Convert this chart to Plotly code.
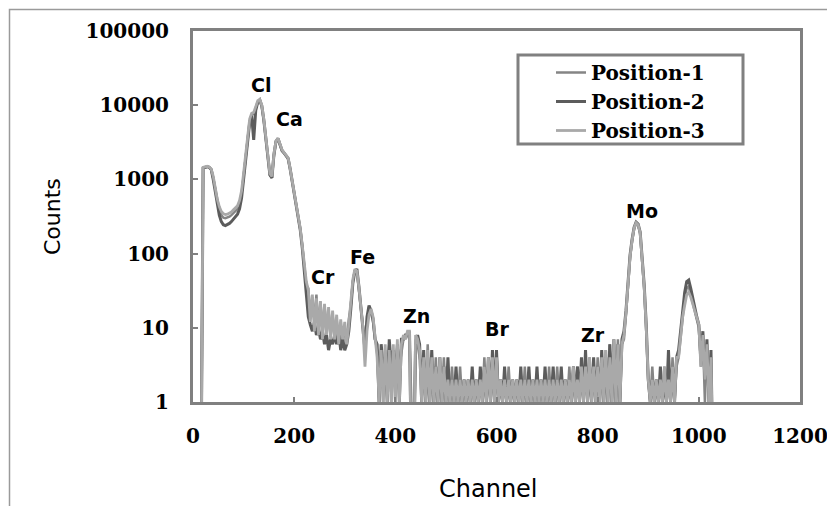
import math
import plotly.graph_objects as go

# Channel grid (every 4th channel)
channels = list(range(0, 1032, 4))

position_1 = [
    0, 0, 0, 0, 0, 1400, 1450, 1480, 1450, 1350,
    1050, 720, 500, 390, 330, 305, 300, 305, 315, 330,
    350, 370, 400, 470, 650, 1100, 2000, 3500, 6000, 7400,
    7600, 9000, 11000, 11500, 9600, 6200, 3600, 1900, 1150, 1050,
    2100, 3200, 3500, 2900, 2400, 2250, 2050, 1900, 1380, 960,
    690, 470, 325, 215, 128, 72, 38, 34, 14, 26,
    12, 28, 10, 22, 9, 20, 8, 17, 8, 15,
    7, 13, 6, 11, 6, 10, 7, 13, 20, 42,
    60, 56, 33, 17, 12, 6, 12, 19, 16, 12,
    7, 5, 1, 4, 1, 5, 3, 6, 1, 5,
    1, 6, 3, 5, 7, 8, 8, 7, 0, 0,
    7, 6, 4, 3, 4, 1, 6, 1, 3, 1,
    4, 1, 3, 1, 4, 1, 2, 1, 3, 1,
    2, 1, 3, 1, 2, 1, 2, 1, 2, 1,
    2, 1, 2, 1, 4, 1, 3, 1, 4, 1,
    5, 1, 2, 1, 2, 1, 3, 1, 2, 1,
    2, 1, 2, 1, 3, 1, 2, 1, 2, 1,
    2, 1, 2, 1, 2, 1, 3, 1, 2, 1,
    3, 1, 2, 1, 2, 1, 3, 1, 3, 1,
    3, 1, 3, 1, 4, 1, 4, 1, 3, 1,
    4, 1, 4, 1, 5, 1, 6, 1, 5, 1,
    7, 1, 6, 7, 15, 42, 88, 148, 215, 255,
    240, 185, 88, 33, 9, 2, 1, 3, 1, 2,
    1, 2, 1, 3, 1, 2, 1, 4, 1, 3,
    4, 8, 16, 25, 34, 36, 28, 22, 17, 13,
    10, 3, 8, 1, 6, 2, 4, 0,
]

position_2 = [
    0, 0, 0, 0, 0, 1420, 1460, 1490, 1460, 1360,
    1000, 660, 440, 330, 270, 245, 238, 245, 255, 270,
    290, 310, 340, 400, 560, 1000, 1900, 3400, 5800, 7200,
    3400, 8500, 11000, 11800, 9800, 6300, 3700, 1950, 1150, 1050,
    2150, 3250, 3550, 2950, 2450, 2280, 2080, 1920, 1390, 970,
    690, 470, 320, 210, 120, 62, 25, 14, 11, 9,
    12, 8, 10, 7, 9, 6, 8, 5, 7, 6,
    8, 6, 9, 5, 7, 5, 6, 9, 18, 40,
    58, 62, 36, 19, 10, 5, 14, 20, 17, 13,
    7, 6, 1, 6, 3, 4, 1, 7, 3, 5,
    2, 6, 1, 7, 7, 8, 8, 9, 0, 0,
    6, 8, 6, 1, 5, 1, 4, 1, 5, 1,
    3, 1, 4, 1, 3, 1, 4, 1, 2, 1,
    3, 1, 2, 1, 2, 1, 2, 1, 3, 1,
    2, 1, 3, 1, 3, 1, 4, 1, 5, 1,
    5, 1, 2, 1, 3, 1, 2, 1, 2, 1,
    2, 1, 3, 1, 2, 1, 3, 1, 2, 1,
    3, 1, 2, 1, 3, 1, 2, 1, 3, 1,
    2, 1, 3, 1, 2, 1, 2, 1, 3, 1,
    3, 1, 4, 1, 5, 1, 3, 1, 4, 1,
    3, 1, 5, 1, 4, 1, 6, 1, 7, 1,
    6, 1, 7, 9, 17, 46, 95, 155, 225, 265,
    250, 195, 95, 38, 11, 2, 1, 2, 1, 2,
    1, 3, 1, 2, 1, 5, 1, 3, 1, 4,
    5, 9, 18, 30, 42, 44, 34, 25, 18, 14,
    11, 4, 9, 2, 7, 1, 5, 0,
]

position_3 = [
    0, 0, 0, 0, 0, 1450, 1480, 1500, 1470, 1380,
    1100, 760, 540, 430, 370, 345, 335, 340, 350, 365,
    390, 410, 440, 520, 700, 1200, 2200, 3800, 6500, 7800,
    8000, 9500, 11500, 12000, 10000, 6500, 3800, 2000, 1200, 1100,
    2200, 3300, 3600, 3000, 2500, 2300, 2100, 1950, 1400, 980,
    700, 480, 330, 220, 130, 75, 42, 32, 12, 28,
    9, 25, 8, 23, 7, 21, 8, 19, 7, 17,
    7, 15, 6, 13, 7, 12, 6, 11, 22, 45,
    62, 58, 35, 18, 10, 3, 9, 15, 18, 14,
    8, 4, 1, 5, 1, 6, 1, 5, 1, 6,
    1, 7, 1, 6, 8, 7, 9, 9, 0, 0,
    8, 7, 5, 1, 4, 1, 5, 1, 4, 1,
    3, 1, 4, 1, 3, 1, 2, 1, 2, 1,
    2, 1, 2, 1, 2, 1, 2, 1, 2, 1,
    2, 1, 2, 1, 3, 1, 4, 1, 4, 1,
    4, 1, 2, 1, 2, 1, 2, 1, 2, 1,
    2, 1, 2, 1, 2, 1, 2, 1, 2, 1,
    2, 1, 2, 1, 2, 1, 2, 1, 2, 1,
    2, 1, 2, 1, 2, 1, 2, 1, 3, 1,
    2, 1, 3, 1, 3, 1, 4, 1, 3, 1,
    3, 1, 4, 1, 5, 1, 4, 1, 7, 1,
    6, 1, 6, 8, 16, 44, 90, 150, 220, 260,
    245, 190, 90, 35, 10, 2, 1, 2, 1, 2,
    1, 2, 1, 3, 1, 2, 1, 3, 1, 4,
    4, 8, 14, 20, 28, 30, 26, 21, 17, 13,
    11, 3, 8, 2, 6, 1, 4, 0,
]

series_names = ["Position-1", "Position-2", "Position-3"]
series_colors = ["#858585", "#5c5c5c", "#a9a9a9"]
series_widths = [2.5, 3, 2.8]

peak_labels = ["Cl", "Ca", "Cr", "Fe", "Zn", "Br", "Zr", "Mo"]
peak_x = [134, 190, 257, 336, 441, 601, 791, 888]
peak_y = [19000, 6600, 49, 89, 14.5, 9.5, 8.0, 370]

x_ticks = [0, 200, 400, 600, 800, 1000, 1200]
y_ticks = [1, 10, 100, 1000, 10000, 100000]
y_ticktext = ["1", "10", "100", "1000", "10000", "100000"]


def below_floor(values):
    # zero counts are drawn below the log-axis floor (as the spreadsheet does)
    return [v if v > 0 else 0.1 for v in values]


fig = go.Figure()
for name, vals, col, w in zip(series_names, [position_1, position_2, position_3],
                              series_colors, series_widths):
    fig.add_trace(go.Scatter(
        x=channels, y=below_floor(vals), mode="lines", name=name,
        line=dict(color=col, width=w), hoverinfo="skip",
    ))

for lab, px_, py_ in zip(peak_labels, peak_x, peak_y):
    fig.add_annotation(
        x=px_, y=math.log10(py_), xref="x", yref="y", text=lab, showarrow=False,
        xanchor="center", yanchor="middle",
        font=dict(family="DejaVu Sans", size=19, color="black", weight="bold"),
    )

# plot area in page pixels: x 193..800, y 31..402 (page body has an 8px offset)
PL, PW, PT, PH = 193, 607, 31, 371

fig.add_annotation(
    x=(488 - PL) / PW, y=-(489 - 402) / PH, xref="paper", yref="paper",
    xanchor="center", yanchor="middle", borderpad=0,
    text="Channel", showarrow=False,
    font=dict(family="DejaVu Sans", size=24, color="black"),
)
fig.add_annotation(
    x=-(PL - 52) / PW, y=1 - (217 - PT) / PH, xref="paper", yref="paper",
    xanchor="center", yanchor="middle",
    text="Counts", showarrow=False, textangle=-90,
    font=dict(family="DejaVu Sans", size=22, color="black"),
)

# outer chart border
fig.add_shape(type="rect", xref="paper", yref="paper",
              x0=-(PL - 9.5) / PW, x1=1.2, y0=-0.5, y1=1 + (PT - 9.5) / PH,
              line=dict(color="#9a9a9a", width=1.5), layer="below")
# legend box
fig.add_shape(type="rect", xref="paper", yref="paper",
              x0=(518 - PL) / PW, x1=(743 - PL) / PW,
              y0=1 - (144 - PT) / PH, y1=1 - (55 - PT) / PH,
              line=dict(color="#808080", width=3), fillcolor="white", layer="below")

tickfont = dict(family="DejaVu Serif", size=20, color="black", weight="bold")

fig.update_layout(
    width=835, height=506,
    margin=dict(l=PL - 8, r=835 - 800 + 8, t=PT - 8, b=506 - 402 + 8),
    paper_bgcolor="white", plot_bgcolor="white",
    showlegend=True,
    legend=dict(
        x=(551 - PL) / PW, y=1 - (53 - PT) / PH, xanchor="left", yanchor="top",
        bgcolor="rgba(0,0,0,0)", borderwidth=0,
        font=dict(family="DejaVu Serif", size=20, color="black", weight="bold"),
        tracegroupgap=0,
    ),
    xaxis=dict(
        range=[0, 1200], tickvals=x_ticks, ticks="inside", ticklen=5,
        tickcolor="#808080", tickwidth=1.5, showgrid=False, zeroline=False,
        showline=True, mirror=True, linecolor="#808080", linewidth=3,
        tickfont=tickfont, ticklabelstandoff=14,
    ),
    yaxis=dict(
        type="log", range=[0, 5], tickvals=y_ticks, ticktext=y_ticktext,
        ticks="inside", ticklen=5, tickcolor="#808080", tickwidth=1.5,
        showgrid=False, zeroline=False,
        showline=True, mirror=True, linecolor="#808080", linewidth=3,
        tickfont=tickfont, ticklabelstandoff=17,
    ),
)

fig.write_html("out.html")
